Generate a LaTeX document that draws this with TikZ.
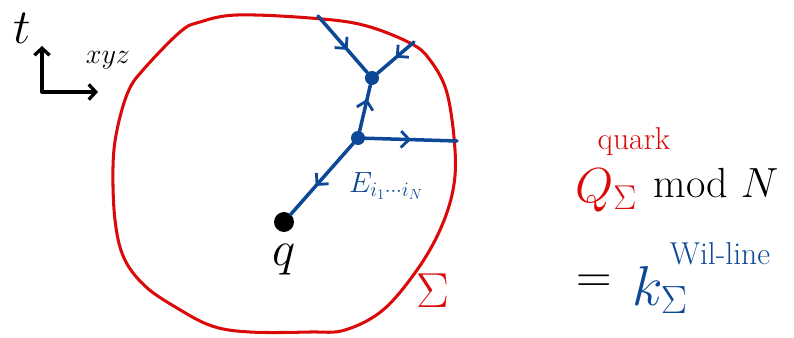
\RequirePackage{fix-cm}
\documentclass[tikz,border=0pt]{standalone}
\usepackage{amsmath, amssymb}
\usepackage{tikz}
\usetikzlibrary{decorations.markings,arrows.meta}

\definecolor{surfred}{RGB}{218,10,10}
\definecolor{fluxblue}{RGB}{12,72,150}

\tikzset{
    midarrow/.style={postaction={decorate},
        decoration={markings,mark=at position #1 with
            {\arrow{Straight Barb[length=7pt,width=14pt,line width=2.4pt]}}}},
    midarrow/.default=0.5,
    fluxline/.style={fluxblue,line width=3pt,line cap=round},
    junction/.style={circle,fill=fluxblue,inner sep=0pt,minimum size=12pt},
}

\begin{document}
\begin{tikzpicture}[x=0.03cm,y=-0.03cm,font=\fontsize{42}{48}\selectfont]
    \useasboundingbox (0,0) rectangle (794,337);

    % Axes.
    \coordinate (t-tip) at (42,46);
    \coordinate (origin) at (42,92);
    \coordinate (x-tip) at (98,92);
    \draw[line width=2.8pt,line cap=round,line join=round,
        {Straight Barb[length=6pt,width=13pt]}-{Straight Barb[length=6pt,width=13pt]}]
        (t-tip) -- (origin) -- (x-tip);
    \node (t-label) at (22,28) {$t$};
    \node[font=\fontsize{24}{28}\selectfont] (space-label) at (108,60) {$xyz$};

    % Surface.
    \draw[surfred,line width=2.6pt] plot[smooth cycle,tension=0.6] coordinates {
        (113,167) (115,220) (124,258) (145,286) (177,308) (212,326)
        (250,332) (310,332) (345,330) (383,310) (417,270) (440,230)
        (453,190) (455,150) (447,93) (430,60) (410,43) (363,25)
        (310,18) (237,15) (200,22) (180,32) (143,70) (128,92) (117,130)};
    \node[text=surfred] (sigma-label) at (433,291) {$\Sigma$};

    % Flux lines.
    \node[junction] (top-junc) at (372,78) {};
    \node[junction] (low-junc) at (358,138) {};
    \node[circle,fill=black,inner sep=0pt,minimum size=17pt] (quark) at (284,222) {};
    \node (quark-label) at (284,260) {$q$};
    \coordinate (in-left) at (318,16);
    \coordinate (in-right) at (414,42);
    \coordinate (out-right) at (457,141);
    \draw[fluxline,midarrow=0.6] (in-left) -- (top-junc);
    \draw[fluxline,midarrow] (in-right) -- (top-junc);
    \draw[fluxline,midarrow=0.7] (low-junc) -- (top-junc);
    \draw[fluxline,midarrow] (low-junc) -- (out-right);
    \draw[fluxline,midarrow=0.6] (low-junc) -- (quark);
    \node[text=fluxblue,font=\fontsize{25}{30}\selectfont] (flux-label)
        at (386,186) {$E_{i_1\cdots i_N}$};

    % Charge.
    \node[text=surfred,font=\fontsize{42}{48}\selectfont] (charge)
        at (606,190) {$Q_{\Sigma}$};
    \node[text=surfred,font=\fontsize{27}{30}\selectfont] (quark-tag)
        at (634,142) {quark};
    \node[font=\fontsize{36}{42}\selectfont] (mod-label) at (716,183) {mod $N$};
    \node (equals) at (594,284) {$=$};
    \node[text=fluxblue,font=\fontsize{48}{54}\selectfont] (link-num)
        at (660,290) {$k_{\Sigma}$};
    \node[text=fluxblue,font=\fontsize{27}{30}\selectfont] (wilson-tag)
        at (720,254) {Wil-line};
\end{tikzpicture}
\end{document}
